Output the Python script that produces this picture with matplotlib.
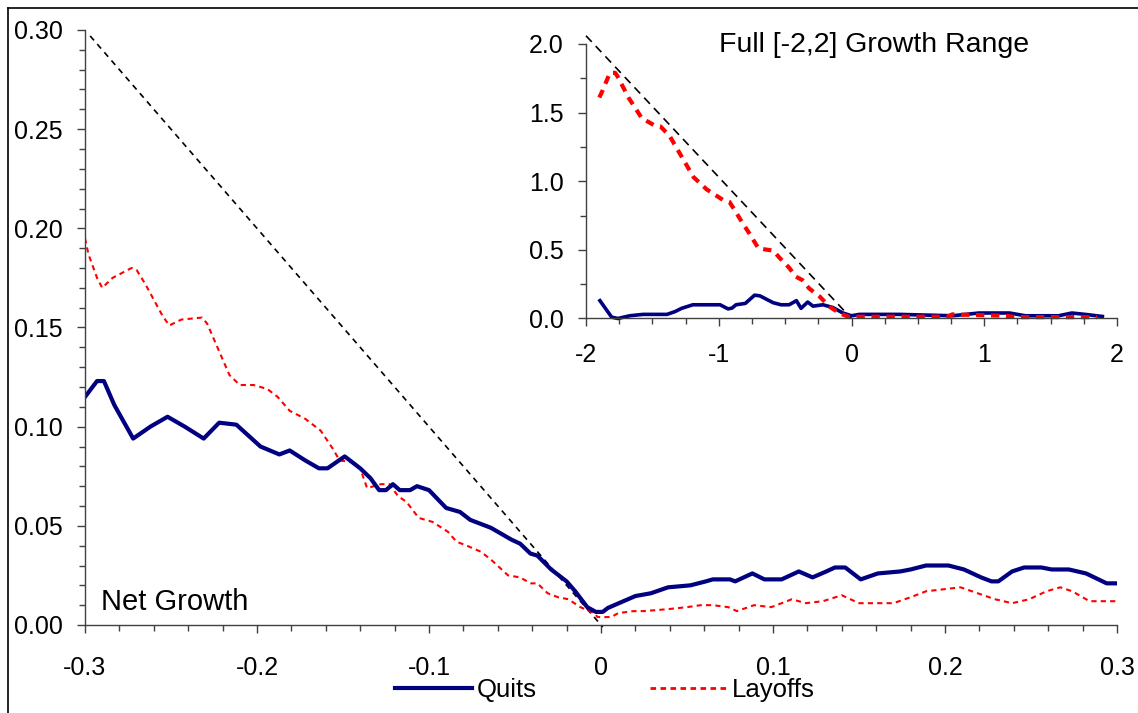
import matplotlib
matplotlib.use("Agg")

import matplotlib.pyplot as plt
import matplotlib.ticker as mticker
from matplotlib.lines import Line2D

plt.rcParams["font.family"] = ["Liberation Sans", "DejaVu Sans"]

# ── Data: main panel (net growth in [-0.3, 0.3]) ─────────────────────────────
quits_x = [-0.300, -0.293, -0.289, -0.283, -0.272, -0.262, -0.252, -0.242, -0.231,
           -0.222, -0.212, -0.198, -0.187, -0.181, -0.172, -0.164, -0.159, -0.149,
           -0.140, -0.134, -0.129, -0.125, -0.121, -0.117, -0.111, -0.107, -0.100,
           -0.090, -0.082, -0.076, -0.064, -0.052, -0.047, -0.041, -0.037, -0.029,
           -0.020, -0.015, -0.008, -0.003, 0.001, 0.004, 0.012, 0.020, 0.029, 0.039,
           0.052, 0.061, 0.065, 0.075, 0.078, 0.088, 0.095, 0.105, 0.115, 0.123,
           0.131, 0.136, 0.142, 0.151, 0.161, 0.174, 0.180, 0.189, 0.202, 0.211,
           0.221, 0.227, 0.231, 0.239, 0.246, 0.256, 0.262, 0.272, 0.282, 0.294, 0.300]
quits_y = [0.115, 0.123, 0.123, 0.111, 0.094, 0.100, 0.105, 0.100, 0.094,
           0.102, 0.101, 0.090, 0.086, 0.088, 0.083, 0.079, 0.079, 0.085,
           0.079, 0.074, 0.068, 0.068, 0.071, 0.068, 0.068, 0.070, 0.068,
           0.059, 0.057, 0.053, 0.049, 0.043, 0.041, 0.036, 0.035, 0.028,
           0.022, 0.017, 0.009, 0.0066, 0.0066, 0.0086, 0.0116, 0.0146, 0.016, 0.019,
           0.020, 0.022, 0.023, 0.023, 0.022, 0.026, 0.023, 0.023, 0.027, 0.024,
           0.027, 0.029, 0.029, 0.023, 0.026, 0.027, 0.028, 0.030, 0.030, 0.028,
           0.024, 0.022, 0.022, 0.027, 0.029, 0.029, 0.028, 0.028, 0.026, 0.021, 0.021]

layoffs_x = [-0.300, -0.298, -0.293, -0.290, -0.284, -0.273, -0.270, -0.265, -0.260,
             -0.255, -0.251, -0.244, -0.232, -0.229, -0.226, -0.223, -0.220, -0.216,
             -0.210, -0.202, -0.194, -0.188, -0.181, -0.172, -0.163, -0.156, -0.152,
             -0.144, -0.140, -0.136, -0.128, -0.123, -0.118, -0.113, -0.106, -0.098,
             -0.089, -0.084, -0.078, -0.070, -0.064, -0.059, -0.054, -0.047, -0.041,
             -0.037, -0.031, -0.025, -0.019, -0.012, -0.004, -0.002, 0.006, 0.010,
             0.019, 0.025, 0.039, 0.050, 0.058, 0.065, 0.074, 0.079, 0.089, 0.099,
             0.111, 0.119, 0.129, 0.140, 0.150, 0.170, 0.180, 0.189, 0.199, 0.209,
             0.219, 0.229, 0.239, 0.249, 0.259, 0.267, 0.274, 0.284, 0.290, 0.300]
layoffs_y = [0.195, 0.187, 0.175, 0.170, 0.175, 0.180, 0.179, 0.172, 0.164,
             0.156, 0.151, 0.154, 0.155, 0.152, 0.146, 0.140, 0.134, 0.126,
             0.121, 0.121, 0.119, 0.115, 0.108, 0.104, 0.098, 0.089, 0.083,
             0.082, 0.079, 0.069, 0.071, 0.071, 0.065, 0.062, 0.054, 0.052,
             0.047, 0.042, 0.040, 0.037, 0.033, 0.029, 0.025, 0.024, 0.021,
             0.021, 0.016, 0.014, 0.013, 0.009, 0.006, 0.004, 0.004, 0.006,
             0.007, 0.007, 0.008, 0.009, 0.010, 0.010, 0.009, 0.007, 0.010, 0.009,
             0.013, 0.011, 0.012, 0.015, 0.011, 0.011, 0.014, 0.017, 0.018, 0.019,
             0.016, 0.013, 0.011, 0.013, 0.017, 0.019, 0.017, 0.012, 0.012, 0.012]

diag_x = [-0.297, 0.001]
diag_y = [0.297, -0.001]

# ── Data: inset (full [-2, 2] range) ─────────────────────────────────────────
in_quits_x = [-1.895, -1.807, -1.76, -1.67, -1.57, -1.39, -1.33, -1.28, -1.195, -0.99,
              -0.93, -0.90, -0.87, -0.80, -0.73, -0.69, -0.59, -0.53, -0.47, -0.415,
              -0.38, -0.33, -0.29, -0.215, -0.14, -0.065, 0.0, 0.06, 0.36, 0.76,
              0.96, 1.19, 1.31, 1.56, 1.66, 1.76, 1.89]
in_quits_y = [0.13, 0.01, 0.0, 0.02, 0.03, 0.03, 0.05, 0.074, 0.10, 0.10,
              0.07, 0.076, 0.10, 0.11, 0.17, 0.165, 0.115, 0.10, 0.10, 0.13,
              0.074, 0.12, 0.09, 0.10, 0.08, 0.04, 0.02, 0.03, 0.03, 0.02,
              0.04, 0.04, 0.02, 0.02, 0.04, 0.03, 0.015]

in_layoffs_x = [-1.90, -1.88, -1.82, -1.78, -1.76, -1.68, -1.58, -1.49, -1.44, -1.37,
                -1.28, -1.19, -1.09, -0.97, -0.92, -0.88, -0.83, -0.77, -0.70, -0.59,
                -0.54, -0.47, -0.42, -0.37, -0.32, -0.24, -0.165, -0.09, -0.015,
                0.06, 0.72, 0.76, 1.15, 1.25, 1.85]
in_layoffs_y = [1.61, 1.65, 1.79, 1.79, 1.76, 1.61, 1.46, 1.41, 1.40, 1.33,
                1.18, 1.03, 0.94, 0.865, 0.85, 0.79, 0.71, 0.62, 0.51, 0.495,
                0.44, 0.37, 0.305, 0.28, 0.22, 0.16, 0.086, 0.038, 0.01,
                0.013, 0.013, 0.03, 0.02, 0.01, 0.01]

in_diag_x = [-2.0, 0.0]
in_diag_y = [2.06, 0.0]

# ── Style ────────────────────────────────────────────────────────────────────
NAVY = "#000080"
RED = "#FF0000"
W, H = 1138, 713


def _style(ax, label_size):
    ax.spines[["top", "right"]].set_visible(False)
    for s in ("left", "bottom"):
        ax.spines[s].set_color("#404040")
        ax.spines[s].set_linewidth(1.0)
    ax.tick_params(which="major", direction="out", length=6, width=1.0,
                   color="#404040", labelsize=label_size, labelcolor="black")
    ax.tick_params(which="minor", direction="out", length=4.5, width=1.0,
                   color="#404040")
    ax.set_facecolor("none")


fig = plt.figure(figsize=(W / 100, H / 100), dpi=100, facecolor="white")

# outer chart-area border (only top and left visible in the crop)
fig.add_artist(Line2D([8 / W, 8 / W], [0, 1 - 8 / H], transform=fig.transFigure,
                      color="black", lw=1.2))
fig.add_artist(Line2D([8 / W, 1], [1 - 8 / H, 1 - 8 / H], transform=fig.transFigure,
                      color="black", lw=1.2))

# ── Main axes ────────────────────────────────────────────────────────────────
ax = fig.add_axes([85 / W, (H - 625) / H, (1117 - 85) / W, (625 - 30) / H])
ax.plot(diag_x, diag_y, color="black", lw=1.2, dashes=(3.5, 3.0), clip_on=False)
ax.plot(layoffs_x, layoffs_y, color=RED, lw=1.5, dashes=(2.5, 2.0))
ax.plot(quits_x, quits_y, color=NAVY, lw=3.0, solid_joinstyle="round")
ax.set_xlim(-0.3, 0.3)
ax.set_ylim(0, 0.3)
_style(ax, 18)
ax.xaxis.set_major_locator(mticker.MultipleLocator(0.1))
ax.xaxis.set_minor_locator(mticker.MultipleLocator(0.02))
ax.yaxis.set_major_locator(mticker.MultipleLocator(0.05))
ax.yaxis.set_minor_locator(mticker.MultipleLocator(0.01))
ax.xaxis.set_major_formatter(mticker.FuncFormatter(
    lambda v, p: "0" if abs(v) < 1e-9 else f"{v:.1f}"))
ax.yaxis.set_major_formatter(mticker.FormatStrFormatter("%.2f"))
ax.tick_params(axis="x", which="major", pad=16)
ax.tick_params(axis="y", which="major", pad=10)
ax.text(0.0155, 0.025, "Net Growth", transform=ax.transAxes, fontsize=21,
        ha="left", va="baseline")

# ── Inset axes ───────────────────────────────────────────────────────────────
ins = fig.add_axes([586 / W, (H - 318.5) / H, (1117 - 586) / W, (318.5 - 44) / H])
ins.plot(in_diag_x, in_diag_y, color="black", lw=1.2, dashes=(5, 3.5), clip_on=False)
ins.plot(in_quits_x, in_quits_y, color=NAVY, lw=2.6, clip_on=False)
ins.plot(in_layoffs_x, in_layoffs_y, color=RED, lw=3.0, dashes=(2.0, 1.6), clip_on=False)
ins.set_xlim(-2, 2)
ins.set_ylim(0, 2)
_style(ins, 18)
ins.xaxis.set_major_locator(mticker.MultipleLocator(1))
ins.xaxis.set_minor_locator(mticker.MultipleLocator(0.25))
ins.yaxis.set_major_locator(mticker.MultipleLocator(0.5))
ins.yaxis.set_minor_locator(mticker.MultipleLocator(0.25))
ins.xaxis.set_major_formatter(mticker.FormatStrFormatter("%d"))
ins.yaxis.set_major_formatter(mticker.FormatStrFormatter("%.1f"))
ins.tick_params(axis="x", which="major", pad=12)
ins.tick_params(axis="y", which="major", pad=10)
ins.text(0.542, 0.995, "Full [-2,2] Growth Range", transform=ins.transAxes,
         fontsize=20.5, ha="center", va="center")

# ── Legend ───────────────────────────────────────────────────────────────────
handles = [Line2D([], [], color=NAVY, lw=3.0),
           Line2D([], [], color=RED, lw=2.0, dashes=(2.0, 1.6))]
fig.legend(handles, ["Quits", "Layoffs"], loc="center",
           bbox_to_anchor=(605 / W, (H - 690) / H), ncol=2, frameon=False,
           fontsize=18.5, handlelength=3.0, handletextpad=0.2, columnspacing=4.4)

fig.savefig("out.png", dpi=100, facecolor="white")
